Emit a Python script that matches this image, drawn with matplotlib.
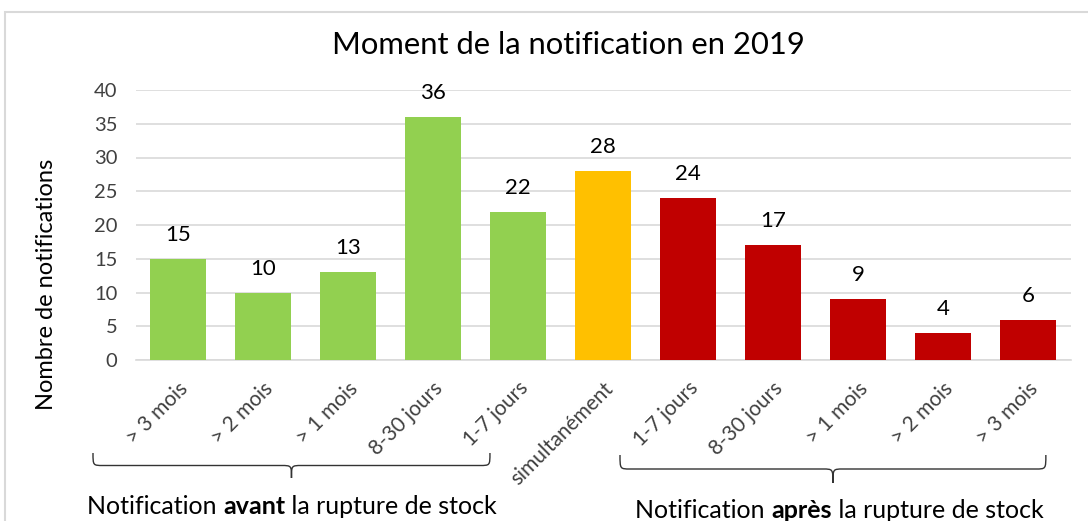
import matplotlib
matplotlib.use("Agg")
import matplotlib.pyplot as plt
from matplotlib.path import Path
from matplotlib.patches import PathPatch, Rectangle
import matplotlib.transforms as mtransforms

plt.rcParams['font.family'] = ['Lato', 'DejaVu Sans']

categories = ["> 3 mois", "> 2 mois", "> 1 mois", "8-30 jours", "1-7 jours",
              "simultanément", "1-7 jours", "8-30 jours", "> 1 mois", "> 2 mois", "> 3 mois"]
values = [15, 10, 13, 36, 22, 28, 24, 17, 9, 4, 6]
groups = ["avant"] * 5 + ["simul"] + ["apres"] * 5
group_colors = {"avant": "#92D050", "simul": "#FFC000", "apres": "#C00000"}
title = "Moment de la notification en 2019"
ylabel = "Nombre de notifications"
yticks = [0, 5, 10, 15, 20, 25, 30, 35, 40]

W, H = 1088, 521
fig = plt.figure(figsize=(W / 100, H / 100), dpi=100)
ax = fig.add_axes([135.5 / W, 1 - 360 / H, (1070.5 - 135.5) / W, 270 / H])

x = list(range(len(categories)))
ax.bar(x, values, width=0.67, color=[group_colors[g] for g in groups], zorder=3)
for xi, v in zip(x, values):
    ax.annotate(str(v), (xi, v), xytext=(0, 10), textcoords="offset points",
                ha="center", va="bottom", fontsize=16, color="#000000")

ax.set_xlim(-0.5, len(categories) - 0.5)
ax.set_ylim(0, 40)
ax.set_yticks(yticks)
ax.yaxis.grid(True, color="#D9D9D9", lw=1.2, zorder=0)
ax.tick_params(axis="y", length=0, labelsize=14.5, labelcolor="#404040", pad=13)
ax.set_xticks(x)
ax.set_xticklabels(categories, rotation=45, ha="right", rotation_mode="anchor",
                   fontsize=15, color="#404040")
ax.tick_params(axis="x", length=0, pad=13)
for s in ["top", "right", "left"]:
    ax.spines[s].set_visible(False)
ax.spines["bottom"].set_color("#D9D9D9")
ax.spines["bottom"].set_linewidth(1.2)
ax.set_ylabel(ylabel, fontsize=17, color="#000000")
ax.yaxis.set_label_coords((57 - 135.5) / 935, 0.28)

fig.text(568 / W, 1 - 45 / H, title, ha="center", va="center",
         fontsize=22.3, color="#000000")

# frame
fig.patches.append(Rectangle((5 / W, -0.1), 1.2, 1 - 12 / H + 0.1, transform=fig.transFigure,
                             fill=False, ec="#D9D9D9", lw=1.5))

# braces (x in data coordinates, y in figure fraction)
trans = mtransforms.blended_transform_factory(ax.transData, fig.transFigure)

def fy(py):
    return 1 - py / H

def brace(x0, x1, ytop, ybot):
    xm = 0.5 * (x0 + x1)
    ymid = 0.5 * (ytop + ybot)
    r = 0.12
    verts = [(x0, ytop), (x0, ymid), (x0, ymid), (x0 + r, ymid),
             (xm - r, ymid),
             (xm, ymid), (xm, ymid), (xm, ybot),
             (xm, ymid), (xm, ymid), (xm + r, ymid),
             (x1 - r, ymid),
             (x1, ymid), (x1, ymid), (x1, ytop)]
    codes = [Path.MOVETO, Path.CURVE4, Path.CURVE4, Path.CURVE4,
             Path.LINETO,
             Path.CURVE4, Path.CURVE4, Path.CURVE4,
             Path.CURVE4, Path.CURVE4, Path.CURVE4,
             Path.LINETO,
             Path.CURVE4, Path.CURVE4, Path.CURVE4]
    fig.patches.append(PathPatch(Path(verts, codes), transform=trans, fill=False,
                                 ec="#333333", lw=1.0))

brace(-1.0, 3.67, fy(453), fy(478))
brace(5.2, 10.21, fy(455), fy(483))

def mixed_label(xc, py, parts, fs=18):
    texts = []
    prev = None
    for txt, wt in parts:
        if prev is None:
            t = ax.annotate(txt, (xc, fy(py)), xycoords=trans, ha="left", va="center",
                            fontsize=fs, fontweight=wt)
        else:
            t = ax.annotate(txt, (1, 0), xycoords=prev, ha="left", va="bottom",
                            fontsize=fs, fontweight=wt)
        t.set_annotation_clip(False)
        texts.append(t)
        prev = t
    fig.canvas.draw()
    r = fig.canvas.get_renderer()
    x0 = texts[0].get_window_extent(r).x0
    x1 = texts[-1].get_window_extent(r).x1
    texts[0].set_anncoords("offset pixels")
    texts[0].xyann = (-(x1 - x0) / 2, 0)

mixed_label(1.34, 507, [("Notification ", "normal"), ("avant", "bold"), (" la rupture de stock", "normal")])
mixed_label(7.78, 510, [("Notification ", "normal"), ("après", "bold"), (" la rupture de stock", "normal")])

fig.savefig("out.png", dpi=100)
